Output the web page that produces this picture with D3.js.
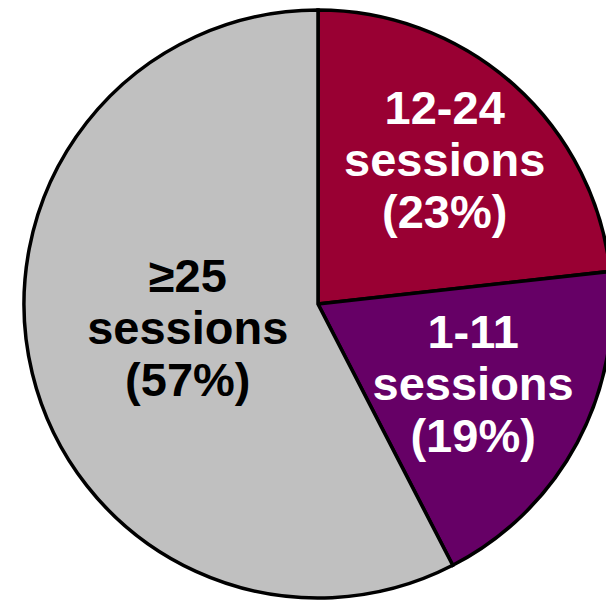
<!DOCTYPE html>
<html>
<head>
<meta charset="utf-8">
<script src="https://cdn.jsdelivr.net/npm/d3@7"></script>
<style>
  body { margin: 0; background: #fff; }
  svg { display: block; }
</style>
</head>
<body>
<svg id="chart"></svg>
<script>
  // slice data, clockwise from 12 o'clock
  const categories = ["12-24", "1-11", "≥25"];
  const values = [23, 19, 57];
  const labelLines = [
    ["12-24", "sessions", "(23%)"],
    ["1-11", "sessions", "(19%)"],
    ["≥25", "sessions", "(57%)"],
  ];
  const colors = ["#990033", "#660066", "#C0C0C0"];
  const textColors = ["#fff", "#fff", "#000"];
  // label placement: distance from centre and small vertical nudge
  const labelRadius = [190, 176, 134];
  const labelDy = [14, 13, 8];

  const width = 606,
    height = 600;
  const cx = 318,
    cy = 304,
    r = 294;

  const svg = d3.select("#chart").attr("width", width).attr("height", height);
  const g = svg.append("g").attr("transform", `translate(${cx},${cy})`);

  const pie = d3.pie().sort(null).value((d) => d);
  const arcs = pie(values);
  const arc = d3.arc().innerRadius(0).outerRadius(r);

  g.selectAll("path.slice")
    .data(arcs)
    .join("path")
    .attr("class", "slice")
    .attr("d", arc)
    .attr("fill", (d, i) => colors[i])
    .attr("stroke", "#000")
    .attr("stroke-width", 3.5)
    .attr("stroke-linejoin", "miter");

  const lineH = 52;
  const labels = g
    .selectAll("text.label")
    .data(arcs)
    .join("text")
    .attr("class", "label")
    .attr("transform", (d, i) => {
      const a = (d.startAngle + d.endAngle) / 2;
      const lr = labelRadius[i];
      return `translate(${lr * Math.sin(a)},${-lr * Math.cos(a) + labelDy[i]})`;
    })
    .attr("text-anchor", "middle")
    .attr("font-family", "'Liberation Sans', Arial, sans-serif")
    .attr("font-weight", "bold")
    .attr("font-size", 47)
    .attr("fill", (d, i) => textColors[i]);

  labels
    .selectAll("tspan")
    .data((d, i) => labelLines[i])
    .join("tspan")
    .attr("x", 0)
    .attr("y", (d, j) => (j - 1) * lineH)
    .text((d) => d);
</script>
</body>
</html>
